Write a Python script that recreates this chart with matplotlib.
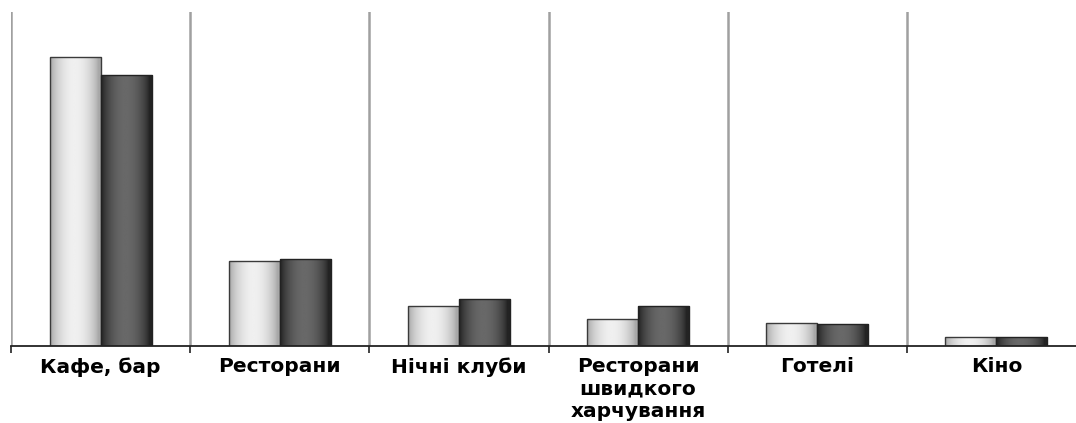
import numpy as np
import matplotlib
matplotlib.use("Agg")
import matplotlib.pyplot as plt
from matplotlib.colors import LinearSegmentedColormap

categories = ["Кафе, бар", "Ресторани", "Нічні клуби",
              "Ресторани\nшвидкого\nхарчування", "Готелі", "Кіно"]
series_light = [43.3, 12.7, 6.0, 4.0, 3.4, 1.35]
series_dark = [40.6, 13.0, 7.0, 6.0, 3.3, 1.35]

plt.rcParams["font.family"] = ["DejaVu Sans"]

fig = plt.figure(figsize=(10.76, 4.23), dpi=100)
ax = fig.add_axes([11 / 1076, 77 / 423, 1075 / 1076, 334 / 423])

x = np.arange(len(categories))
w = 0.285

bars_l = ax.bar(x - w / 2, series_light, w, color="none",
                edgecolor="#3a3a3a", linewidth=1.0, zorder=3)
bars_d = ax.bar(x + w / 2, series_dark, w, color="none",
                edgecolor="#222222", linewidth=1.0, zorder=3)

# cylinder-like horizontal shading for each bar
t = np.linspace(0, 1, 200)
shape = np.sin(np.pi * np.clip(t * 1.1 - 0.02, 0, 1)) ** 0.7
light_prof = 0.66 + 0.28 * shape
dark_prof = 0.14 + 0.27 * shape
gray = LinearSegmentedColormap.from_list("g", ["black", "white"])

for bars, prof in ((bars_l, light_prof), (bars_d, dark_prof)):
    for b in bars:
        x0, y0 = b.get_x(), b.get_y()
        bw, bh = b.get_width(), b.get_height()
        im = ax.imshow(prof[np.newaxis, :], cmap=gray, vmin=0, vmax=1,
                       aspect="auto", extent=(x0, x0 + bw, y0, y0 + bh),
                       zorder=2, interpolation="bilinear")
        im.set_clip_path(b)

ax.set_xlim(-0.5, len(categories) - 0.5)
ax.set_ylim(0, 50)

ax.set_xticks(x)
ax.set_xticklabels(categories, fontsize=14.5, fontweight="bold",
                   linespacing=1.22, va="top")
ax.tick_params(axis="x", which="major", length=0, pad=8)
ax.set_xticks(np.arange(-0.5, len(categories), 1.0), minor=True)
ax.tick_params(axis="x", which="minor", length=5, width=1.2, color="#222222")
ax.grid(True, axis="x", which="minor", color="#a0a0a0", linewidth=1.8, zorder=0)
ax.set_yticks([])

for side in ("left", "right", "top"):
    ax.spines[side].set_visible(False)
ax.spines["bottom"].set_color("#222222")
ax.spines["bottom"].set_linewidth(1.3)
ax.spines["bottom"].set_zorder(4)

fig.savefig("out.png", dpi=100)
